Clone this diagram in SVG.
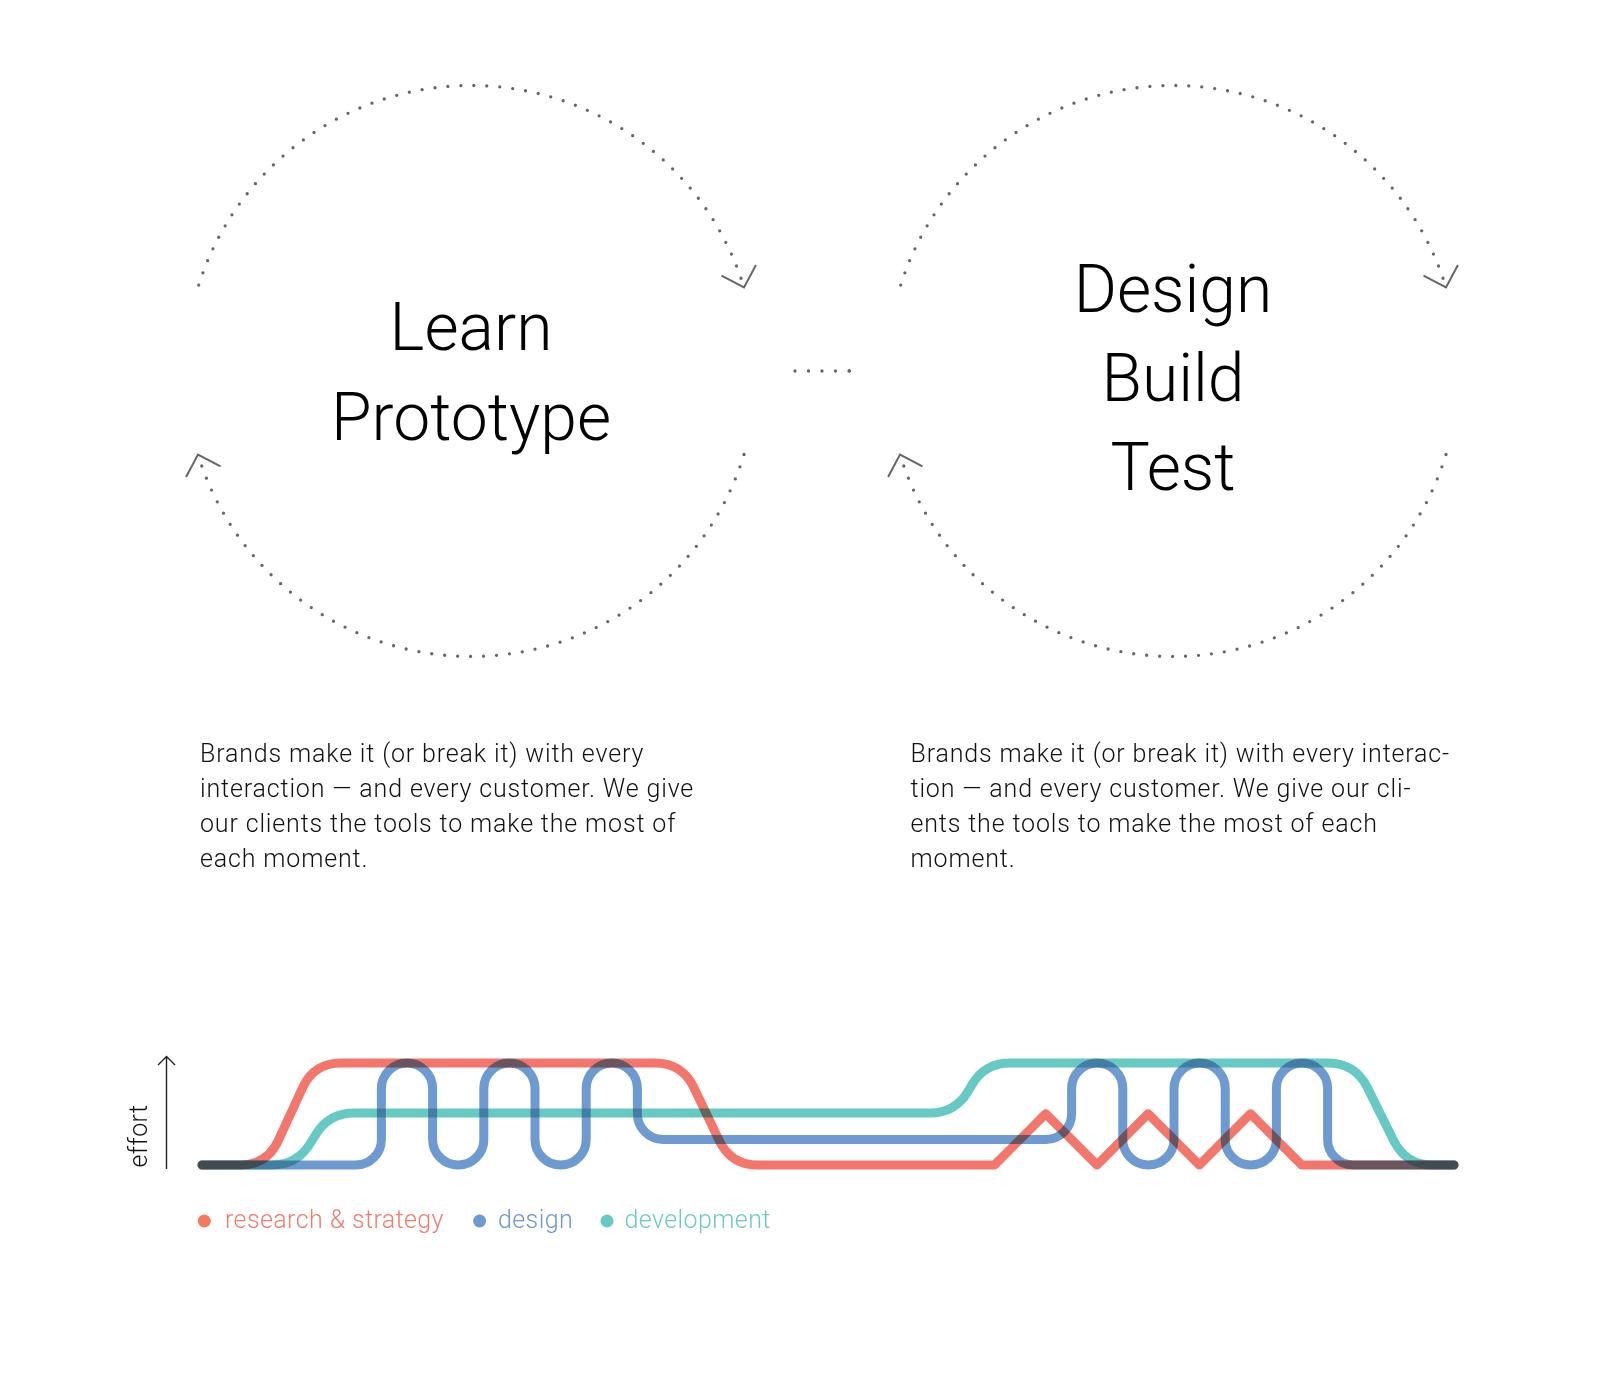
<svg xmlns="http://www.w3.org/2000/svg" width="1600" height="1400" viewBox="0 0 1600 1400">
  <style>
    .loop { fill: none; stroke: #666; stroke-width: 3.3; stroke-linecap: round; stroke-dasharray: 0 13; }
    .link { fill: none; stroke: #666; stroke-width: 3.3; stroke-linecap: round; stroke-dasharray: 0 13.5; }
    .chev { fill: none; stroke: #666; stroke-width: 2; stroke-dasharray: none; }
    .title { font-family: Roboto, "Liberation Sans", sans-serif; font-weight: 300; font-size: 66px; fill: #000; text-anchor: middle; }
    .body { font-family: Roboto, "Liberation Sans", sans-serif; font-weight: 300; font-size: 25px; letter-spacing: 0.85px; fill: #111; }
    .track { fill: none; stroke-width: 9; stroke-linecap: round; stroke-linejoin: round; mix-blend-mode: multiply; }
    .research { stroke: #F15548; }
    .design { stroke: #4A81C7; }
    .dev { stroke: #40BCB5; }
    .axis { fill: none; stroke: #222; stroke-width: 1.4; }
    .label { font-family: Roboto, "Liberation Sans", sans-serif; font-weight: 300; font-size: 25px; letter-spacing: 0.4px; }
  </style>
  <defs>
    <marker id="chevron" markerUnits="userSpaceOnUse" orient="auto" markerWidth="60" markerHeight="60" viewBox="-30 -30 60 60" refX="0" refY="0" overflow="visible">
      <path class="chev" d="M-18,-18 L0,0 L-18,18"/>
    </marker>
  </defs>

  <rect width="1600" height="1400" fill="#fff"/>

  <!-- left cycle -->
  <g id="cycle-learn">
    <path class="loop" d="M198.7,285.1 A285.5,285.5 0 0 1 744,287.5" marker-end="url(#chevron)"/>
    <path class="loop" d="M744,454.5 A285.5,285.5 0 0 1 198,454.5" marker-end="url(#chevron)"/>
    <text class="title" x="471" y="350">Learn</text>
    <text class="title" x="471" y="440">Prototype</text>
  </g>

  <!-- right cycle -->
  <g id="cycle-build">
    <path class="loop" d="M900.7,285.1 A285.5,285.5 0 0 1 1446,287.5" marker-end="url(#chevron)"/>
    <path class="loop" d="M1446,454.5 A285.5,285.5 0 0 1 900,454.5" marker-end="url(#chevron)"/>
    <text class="title" x="1173" y="312">Design</text>
    <text class="title" x="1173" y="401">Build</text>
    <text class="title" x="1173" y="490">Test</text>
  </g>

  <!-- dotted link between the cycles -->
  <g id="connectors">
    <path class="link" d="M795,371 H849.5 M849.5,371 h0.01"/>
  </g>

  <!-- descriptions -->
  <g id="text-left">
    <text class="body" x="200" y="762">Brands make it (or break it) with every</text>
    <text class="body" x="200" y="797">interaction — and every customer. We give</text>
    <text class="body" x="200" y="832">our clients the tools to make the most of</text>
    <text class="body" x="200" y="867">each moment.</text>
  </g>
  <g id="text-right">
    <text class="body" x="910.5" y="762">Brands make it (or break it) with every interac-</text>
    <text class="body" x="910.5" y="797">tion — and every customer. We give our cli-</text>
    <text class="body" x="910.5" y="832">ents the tools to make the most of each</text>
    <text class="body" x="910.5" y="867">moment.</text>
  </g>

  <!-- effort chart -->
  <g id="effort-chart">
    <path class="axis" d="M166.5,1169 V1056.5 M158,1065 L166.5,1056.5 L175,1065"/>
    <text class="label" fill="#111" transform="translate(147,1136) rotate(-90)" text-anchor="middle">effort</text>
    <g opacity="0.8">
      <path class="track research" d="M202,1165 H240 Q267,1165 278.3,1140.5 L302.7,1087.5 Q314,1063 341,1063 H655 Q682,1063 693.7,1087.3 L719.3,1140.7 Q731,1165 758,1165 H994.5 L1045.7,1113.8 L1097,1165 L1148.1,1113.8 L1199.4,1165 L1250.5,1113.8 L1301.7,1165 H1454"/>
      <path class="track dev" d="M202,1165 H272 Q297,1165 310.1,1143.7 L315.9,1134.3 Q329,1113 354,1113 H930 Q955,1113 967.9,1091.6 L972.1,1084.4 Q985,1063 1010,1063 H1328 Q1355,1063 1367.1,1087.1 L1393.9,1140.9 Q1406,1165 1433,1165 H1454"/>
      <path class="track design" d="M202,1165 H355.8 A25.6,25.6 0 0 0 381.4,1139.4 V1088.6 A25.6,25.6 0 0 1 432.6,1088.6 V1139.4 A25.6,25.6 0 0 0 483.8,1139.4 V1088.6 A25.6,25.6 0 0 1 535,1088.6 V1139.4 A25.6,25.6 0 0 0 586.2,1139.4 V1088.6 A25.6,25.6 0 0 1 637.4,1088.6 V1113.8 A25.6,25.6 0 0 0 663,1139.4 H1046 A25.6,25.6 0 0 0 1071.6,1113.8 V1088.6 A25.6,25.6 0 0 1 1122.8,1088.6 V1139.4 A25.6,25.6 0 0 0 1174,1139.4 V1088.6 A25.6,25.6 0 0 1 1225.2,1088.6 V1139.4 A25.6,25.6 0 0 0 1276.4,1139.4 V1088.6 A25.6,25.6 0 0 1 1327.6,1088.6 V1139.4 A25.6,25.6 0 0 0 1353.2,1165 H1454"/>
    </g>
  </g>

  <!-- legend -->
  <g id="legend">
    <circle cx="204.3" cy="1221" r="6.5" fill="#F37A5C"/>
    <text class="label" x="225" y="1228" fill="#F27B6E">research &amp; strategy</text>
    <circle cx="479.6" cy="1221" r="6.5" fill="#6E9AD2"/>
    <text class="label" x="498" y="1228" fill="#6E98D0">design</text>
    <circle cx="607" cy="1221" r="6.5" fill="#66C9C4"/>
    <text class="label" x="624.5" y="1228" fill="#6CCAC5">development</text>
  </g>
</svg>
